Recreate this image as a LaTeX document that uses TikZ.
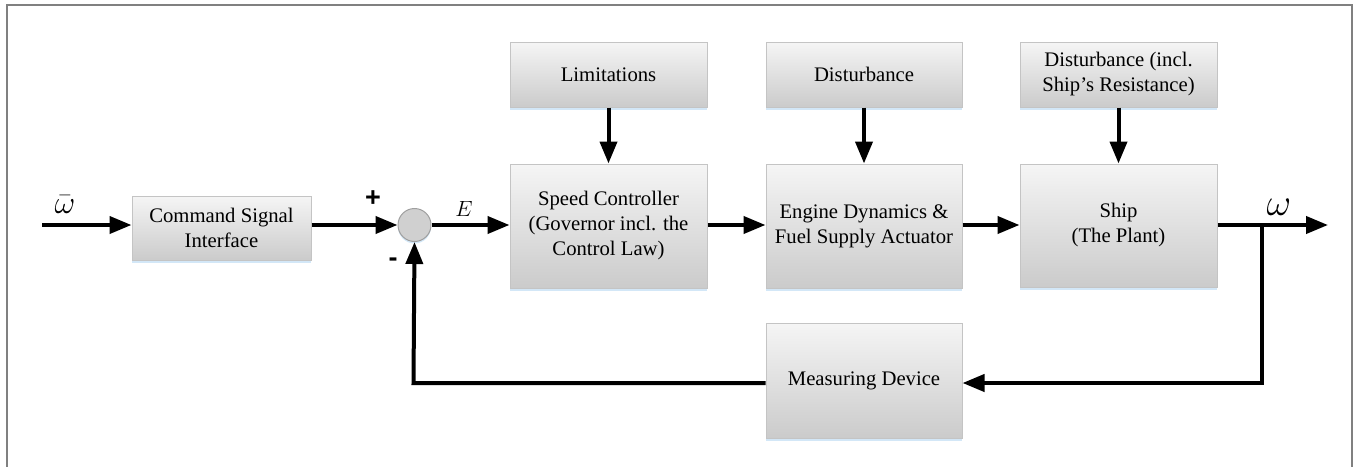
\RequirePackage{fix-cm}
\documentclass[tikz,border=0pt]{standalone}
\usepackage{fontspec}
\setmainfont{Liberation Serif}
\newfontfamily\signfont{Liberation Sans}
\usetikzlibrary{arrows.meta,shadows,calc}
\definecolor{boxtop}{RGB}{245,245,245}
\definecolor{boxbot}{RGB}{203,203,203}
\definecolor{boxline}{RGB}{196,196,196}
\definecolor{shadowblue}{RGB}{200,225,245}
\definecolor{frameline}{RGB}{128,128,128}
\tikzset{
  blockbox/.style={rectangle, draw=boxline, line width=1pt, top color=boxtop, bottom color=boxbot,
    align=center, inner sep=2pt, font=\fontsize{20.7}{25}\selectfont,
    drop shadow={shadow xshift=0pt, shadow yshift=-2.5pt, fill=shadowblue, opacity=0.8}},
  sumnode/.style={circle, draw=gray!75, line width=1pt, fill={rgb,255:red,208;green,208;blue,208},
    minimum size=33pt, inner sep=0pt,
    drop shadow={shadow xshift=0pt, shadow yshift=-2pt, fill=shadowblue, opacity=0.8}},
  sig/.style={line width=4pt, -{Triangle[length=22pt,width=17pt]}},
  lbl/.style={inner sep=0pt}
}
\begin{document}
\begin{tikzpicture}[x=1pt,y=-1pt]
\useasboundingbox (0,0) rectangle (1357,466);
\draw[frameline, line width=1.5pt] (7,470) -- (7,5) -- (1352,5) -- (1352,470);

\node[blockbox, minimum width=179pt, minimum height=64pt] (cmd) at (221.5,228) {Command Signal\\Interface};
\node[sumnode] (sum) at (414.5,225) {};
\node[blockbox, minimum width=197pt, minimum height=124pt] (spd) at (608.5,226) {Speed Controller\\(Governor incl. the\\Control Law)};
\node[blockbox, minimum width=196pt, minimum height=124pt] (eng) at (864,226) {Engine Dynamics \&\\Fuel Supply Actuator};
\node[blockbox, minimum width=197pt, minimum height=123pt] (ship) at (1118.5,225.5) {Ship\\(The Plant)};
\node[blockbox, minimum width=197pt, minimum height=65pt] (lim) at (608.5,74.5) {Limitations};
\node[blockbox, minimum width=196pt, minimum height=65pt] (dis) at (864,74.5) {Disturbance};
\node[blockbox, minimum width=197pt, minimum height=65pt] (disship) at (1118.5,74.5) {Disturbance (incl.\\Ship's Resistance)};
\node[blockbox, minimum width=196pt, minimum height=115pt] (meas) at (864,380.5) {Measuring Device};

\coordinate (in) at (42,225);
\coordinate (out) at (1328,225);
\coordinate (branch) at (1262,225);
\coordinate (fbr) at (1262,383);
\coordinate (fbl) at (413.5,383);

\draw[sig] (in) -- (cmd.west |- in);
\draw[sig] (cmd.east |- sum) -- (sum.west);
\draw[sig] (sum.east) -- (spd.west |- sum);
\draw[sig] (spd.east |- sum) -- (eng.west |- sum);
\draw[sig] (eng.east |- sum) -- (ship.west |- sum);
\draw[sig] (ship.east |- sum) -- (out);
\draw[sig] (lim.south) -- (spd.north);
\draw[sig] (dis.south) -- (eng.north);
\draw[sig] (disship.south) -- (ship.north);
\draw[sig] (branch) -- (fbr) -- (meas.east |- fbr);
\draw[sig] (meas.west |- fbl) -- (fbl) -- (sum.south);

\node[lbl, font=\fontsize{32}{32}\selectfont] (wbar) at (65,205) {$\bar{\omega}$};
\node[lbl, font=\fontsize{38}{38}\selectfont] (wout) at (1279,207) {$\omega$};
\node[lbl, font=\fontsize{22}{22}\selectfont] (elbl) at (464,209) {$E$};
\node[lbl, font=\signfont\bfseries\fontsize{27}{27}\selectfont] (plus) at (373,199) {+};
\node[lbl, font=\signfont\bfseries\fontsize{27}{27}\selectfont] (minus) at (393,262) {-};
\end{tikzpicture}
\end{document}
